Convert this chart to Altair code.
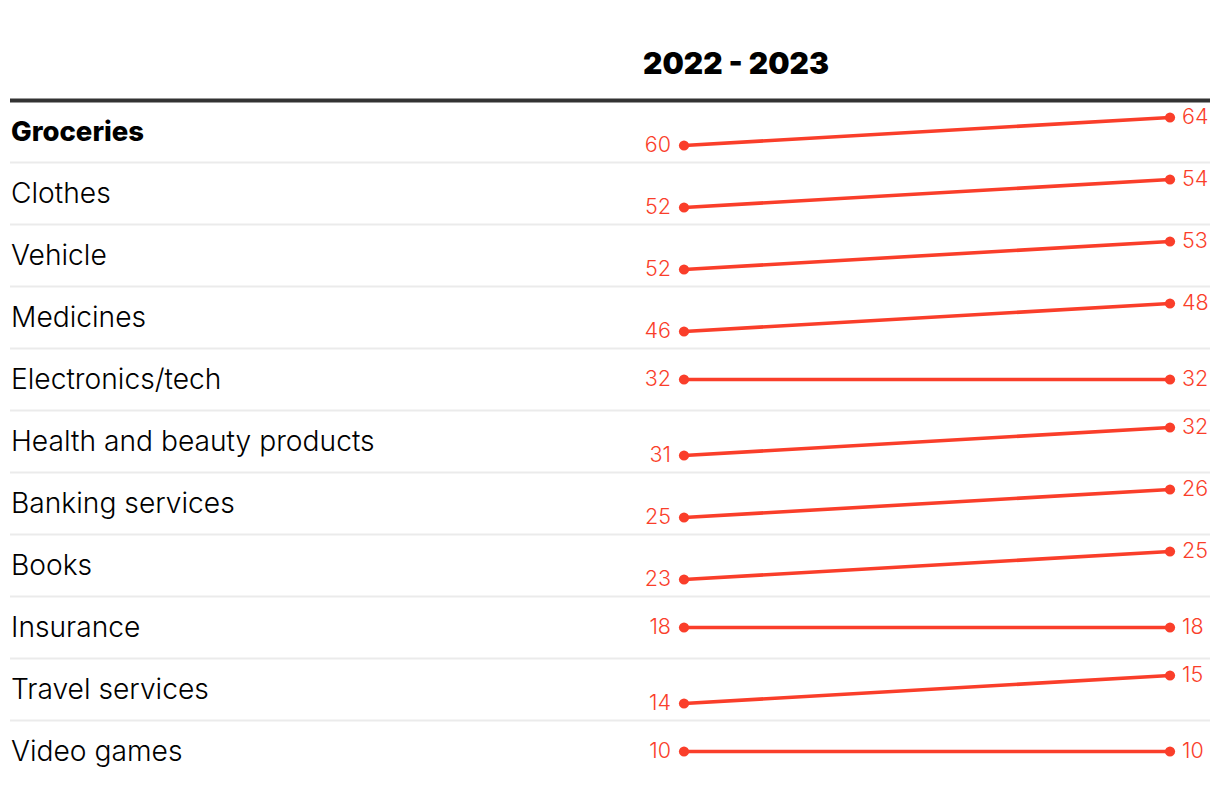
import altair as alt
import pandas as pd

categories = ["Groceries", "Clothes", "Vehicle", "Medicines", "Electronics/tech",
              "Health and beauty products", "Banking services", "Books", "Insurance",
              "Travel services", "Video games"]
v2022 = [60, 52, 52, 46, 32, 31, 25, 23, 18, 14, 10]
v2023 = [64, 54, 53, 48, 32, 32, 26, 25, 18, 15, 10]
years = ["2022", "2023"]
title_text = "2022 - 2023"

RED = "#fa3e2a"
FONT = "Inter"
OFF = 14 / 62

rows = []
for i, (c, a, b) in enumerate(zip(categories, v2022, v2023)):
    d = 0 if a == b else (OFF if b > a else -OFF)
    rows.append({"category": c, "year": years[0], "pos": 0, "value": a, "r": i + 0.5 + d})
    rows.append({"category": c, "year": years[1], "pos": 1, "value": b, "r": i + 0.5 - d})
df = pd.DataFrame(rows)

lab = pd.DataFrame({"category": categories, "r": [i + 0.5 for i in range(len(categories))]})
seps = pd.DataFrame({"r": [i + 1 for i in range(len(categories) - 1)]})
head = pd.DataFrame({"r": [0], "t": [title_text]})

TOP = 92.5
xs = alt.Scale(domain=[-676 / 486, (1204 - 676) / 486], nice=False, zero=False)
ys = alt.Scale(domain=[-TOP / 62, (776 - TOP) / 62], nice=False, zero=False, reverse=True)
X = alt.X("pos:Q", scale=xs, axis=None)
Y = alt.Y("r:Q", scale=ys, axis=None)

sep = alt.Chart(seps).mark_rule(color="#ebebeb", strokeWidth=2).encode(
    x=alt.value(2), x2=alt.value(1202), y=Y)
header = alt.Chart(head).mark_rule(color="#333333", strokeWidth=4).encode(
    x=alt.value(2), x2=alt.value(1202), y=Y)
title = alt.Chart(head).mark_text(font=FONT, fontSize=30, fontWeight=900, color="#000",
                                  align="center", baseline="middle").encode(
    x=alt.value(728), y=alt.value(57), text="t:N")

labels_norm = alt.Chart(lab).transform_filter(alt.datum.category != categories[0]).mark_text(
    font=FONT, fontSize=28.2, fontWeight=300, color="#000", align="left", baseline="middle", dy=1).encode(
    x=alt.value(3), y=Y, text="category:N")
labels_bold = alt.Chart(lab).transform_filter(alt.datum.category == categories[0]).mark_text(
    font=FONT, fontSize=27.5, fontWeight=800, color="#000", align="left", baseline="middle", dy=1).encode(
    x=alt.value(3), y=Y, text="category:N")

lines = alt.Chart(df).mark_line(color=RED, strokeWidth=3.6).encode(
    x=X, y=Y, detail="category:N", order="pos:Q")
pts = alt.Chart(df).mark_circle(color=RED, size=105, opacity=1).encode(x=X, y=Y)
lv = alt.Chart(df).transform_filter(alt.datum.pos == 0).mark_text(
    font=FONT, fontSize=21.5, fontWeight=300, color=RED, align="right", baseline="middle", dx=-13).encode(
    x=X, y=Y, text="value:Q")
rv = alt.Chart(df).transform_filter(alt.datum.pos == 1).mark_text(
    font=FONT, fontSize=21.5, fontWeight=300, color=RED, align="left", baseline="middle", dx=12).encode(
    x=X, y=Y, text="value:Q")

chart = alt.layer(sep, header, title, labels_norm, labels_bold, lines, pts, lv, rv).properties(
    width=1204, height=776, padding=0, autosize=alt.AutoSizeParams(type="none"),
    background="white"
).configure_view(stroke=None, strokeWidth=0)

chart.save("out.html", embed_options={"renderer": "svg", "actions": False})
